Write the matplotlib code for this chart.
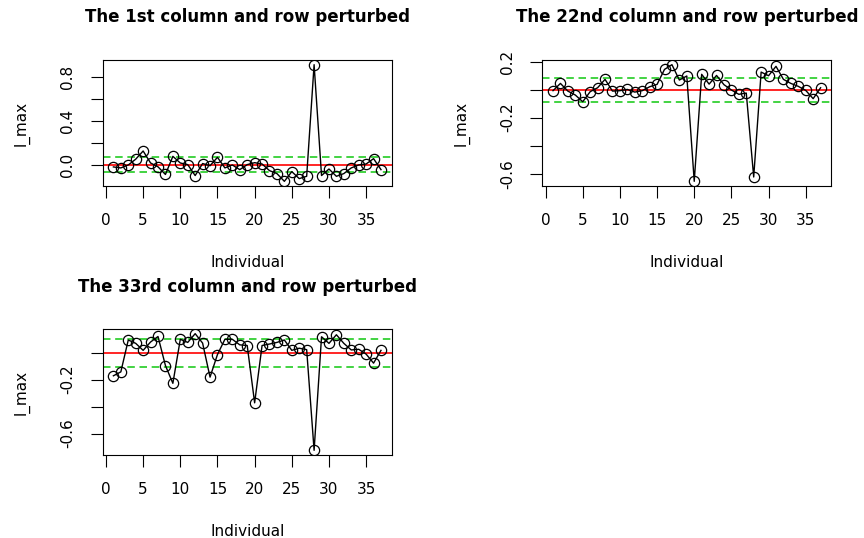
import matplotlib
matplotlib.use("Agg")
import matplotlib.pyplot as plt
import numpy as np

plt.rcParams['font.family'] = ['DejaVu Sans']

individuals = list(range(1, 38))

titles = ["The 1st column and row perturbed",
          "The 22nd column and row perturbed",
          "The 33rd column and row perturbed"]

lmax_col1 = [-0.021, -0.030, -0.003, 0.050, 0.125, 0.015, -0.020, -0.090, 0.076, 0.015,
             0.000, -0.100, 0.010, -0.010, 0.067, -0.030, -0.003, -0.046, 0.000, 0.018,
             0.006, -0.055, -0.082, -0.153, -0.064, -0.128, -0.107, 0.916, -0.100, -0.040,
             -0.107, -0.082, -0.030, -0.003, 0.006, 0.055, -0.046]
bounds_col1 = (0.073, -0.070)

lmax_col22 = [-0.007, 0.045, -0.010, -0.038, -0.086, -0.014, 0.014, 0.074, -0.010, -0.007,
              0.002, -0.017, -0.007, 0.021, 0.038, 0.145, 0.179, 0.069, 0.098, -0.655,
              0.110, 0.040, 0.102, 0.036, -0.002, -0.033, -0.024, -0.624, 0.126, 0.100,
              0.167, 0.074, 0.045, 0.024, -0.005, -0.064, 0.014]
bounds_col22 = (0.081, -0.086)

lmax_col33 = [-0.171, -0.142, 0.095, 0.070, 0.018, 0.080, 0.121, -0.095, -0.227, 0.100,
              0.077, 0.142, 0.072, -0.181, -0.013, 0.100, 0.100, 0.059, 0.054, -0.372,
              0.054, 0.065, 0.077, 0.095, 0.018, 0.034, 0.023, -0.725, 0.119, 0.070,
              0.134, 0.070, 0.021, 0.026, -0.010, -0.077, 0.018]
bounds_col33 = (0.103, -0.108)

series = [lmax_col1, lmax_col22, lmax_col33]
bounds = [bounds_col1, bounds_col22, bounds_col33]

yticks_all = [[0.0, 0.2, 0.4, 0.6, 0.8],
              [-0.6, -0.4, -0.2, 0.0, 0.2],
              [-0.6, -0.4, -0.2, 0.0]]
ylabels_all = [["0.0", "", "0.4", "", "0.8"],
               ["-0.6", "", "-0.2", "", "0.2"],
               ["-0.6", "", "-0.2", ""]]
xticks = [0, 5, 10, 15, 20, 25, 30, 35]

W, H = 864, 538
fig = plt.figure(figsize=(W / 100, H / 100), dpi=100)

boxes = [(102.7, 60, 289, 126), (542.3, 60, 289, 126), (102.7, 329, 289, 126)]

for i in range(3):
    x0, y0, w, h = boxes[i]
    ax = fig.add_axes([x0 / W, (H - y0 - h) / H, w / W, h / H])
    y = np.array(series[i])
    ax.axhline(0, color='#ff0000', lw=1.2, zorder=1)
    for b in bounds[i]:
        ax.axhline(b, color='#22cc22', lw=1.2, ls=(0, (4.5, 2.8)), zorder=1)
    ax.plot(individuals, y, color='black', lw=1.0, marker='o', ms=7.4,
            mfc='none', mec='black', mew=0.9, zorder=3)
    n = len(individuals)
    xr = n - 1
    ax.set_xlim(1 - 0.04 * xr, n + 0.04 * xr)
    r = y.max() - y.min()
    ax.set_ylim(y.min() - 0.04 * r, y.max() + 0.04 * r)
    ax.set_xticks(xticks)
    ax.set_xticklabels([str(t) for t in xticks])
    ax.set_yticks(yticks_all[i])
    ax.set_yticklabels(ylabels_all[i])
    ax.tick_params(axis='both', length=8.8, width=0.8, labelsize=11, direction='out')
    ax.tick_params(axis='x', pad=10.5)
    ax.tick_params(axis='y', pad=11, labelrotation=90)
    for lab in ax.get_yticklabels():
        lab.set_va('center')
    for s in ax.spines.values():
        s.set_linewidth(0.8)
    ax.set_title(titles[i], fontsize=12, fontweight='bold', pad=27)
    ax.set_xlabel('Individual', fontsize=11, va='center')
    ax.xaxis.set_label_coords(0.5, -0.611)
    ax.set_ylabel('l_max', fontsize=11, va='center')
    ax.yaxis.set_label_coords(-0.281, 0.5)

fig.savefig('out.png', dpi=100)
